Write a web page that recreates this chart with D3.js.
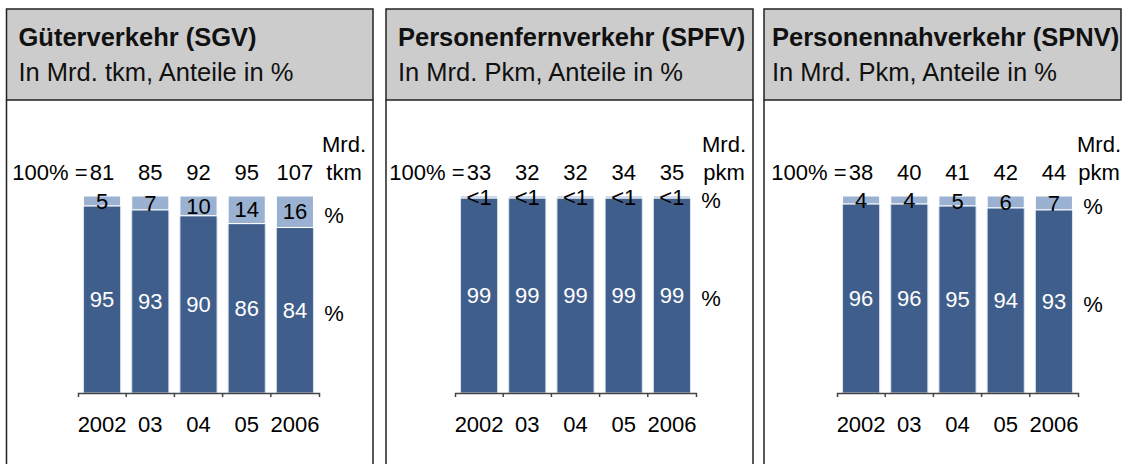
<!DOCTYPE html>
<html>
<head>
<meta charset="utf-8">
<script src="https://cdn.jsdelivr.net/npm/d3@7"></script>
<style>
    body { margin: 0; background: #fff; }
    svg { display: block; font-family: "Liberation Sans", Arial, sans-serif; }
</style>
</head>
<body>
<svg id="chart" width="1122" height="464"></svg>
<script>
const years = ["2002", "03", "04", "05", "2006"];

const sgvTotals = [81, 85, 92, 95, 107];
const sgvDark = [95, 93, 90, 86, 84];
const sgvLight = [5, 7, 10, 14, 16];

const spfvTotals = [33, 32, 32, 34, 35];
const spfvDark = [99, 99, 99, 99, 99];
const spfvLight = [1, 1, 1, 1, 1];
const spfvLightLabels = ["<1", "<1", "<1", "<1", "<1"];

const spnvTotals = [38, 40, 41, 42, 44];
const spnvDark = [96, 96, 95, 94, 93];
const spnvLight = [4, 4, 5, 6, 7];

const panels = [
    {title: "Güterverkehr (SGV)", sub: "In Mrd. tkm, Anteile in %", unit: "tkm",
     totals: sgvTotals, dark: sgvDark, light: sgvLight, lightLabels: sgvLight.map(String),
     left: 6.5, right: 373, axisX: 78, unitDx: 25, textDx: 12},
    {title: "Personenfernverkehr (SPFV)", sub: "In Mrd. Pkm, Anteile in %", unit: "pkm",
     totals: spfvTotals, dark: spfvDark, light: spfvLight, lightLabels: spfvLightLabels,
     left: 386, right: 753, axisX: 455, unitDx: 28, textDx: 12},
    {title: "Personennahverkehr (SPNV)", sub: "In Mrd. Pkm, Anteile in %", unit: "pkm",
     totals: spnvTotals, dark: spnvDark, light: spnvLight, lightLabels: spnvLight.map(String),
     left: 764, right: 1121, axisX: 837, unitDx: 21, textDx: 8, open: true}
];

const darkColor = "#405e8b";
const lightColor = "#9bb1d1";
const headerTop = 9, headerBottom = 100, height = 464;
const labelSize = 22;

const svg = d3.select("#chart");
const y = d3.scaleLinear().domain([0, 100]).range([393, 196]);

panels.forEach(p => {
    const g = svg.append("g");

    // header box
    g.append("rect")
        .attr("x", p.left).attr("y", headerTop)
        .attr("width", p.right - p.left).attr("height", headerBottom - headerTop)
        .attr("fill", "#cccccc").attr("stroke", "#222").attr("stroke-width", 1.5);
    // body borders (open at the bottom)
    g.append("line")
        .attr("x1", p.left).attr("x2", p.left).attr("y1", headerBottom).attr("y2", height)
        .attr("stroke", "#222").attr("stroke-width", 1.5);
    if (!p.open) {
        g.append("line")
            .attr("x1", p.right).attr("x2", p.right).attr("y1", headerBottom).attr("y2", height)
            .attr("stroke", "#222").attr("stroke-width", 1.5);
    }

    g.append("text")
        .attr("x", p.left + p.textDx).attr("y", 45.5)
        .attr("font-size", 25.5).attr("font-weight", "bold").attr("fill", "#111")
        .text(p.title);
    g.append("text")
        .attr("x", p.left + p.textDx).attr("y", 81)
        .attr("font-size", 25.5).attr("fill", "#111")
        .text(p.sub);

    const x = d3.scaleBand()
        .domain(years)
        .range([p.axisX, p.axisX + 241])
        .paddingInner(0.23)
        .paddingOuter(0.115);
    const step = x.step();
    const end = p.axisX + 241;

    const rows = years.map((yr, i) => ({yr, total: p.totals[i], dark: p.dark[i], light: p.light[i], lightLabel: p.lightLabels[i]}));

    // dark segments
    g.selectAll(".dark").data(rows).enter().append("rect")
        .attr("x", d => x(d.yr)).attr("width", x.bandwidth())
        .attr("y", d => y(d.dark)).attr("height", d => y(0) - y(d.dark))
        .attr("fill", darkColor).attr("stroke", "#dbe3ee").attr("stroke-width", 1);
    // light segments
    g.selectAll(".light").data(rows).enter().append("rect")
        .attr("x", d => x(d.yr)).attr("width", x.bandwidth())
        .attr("y", d => y(d.dark + d.light)).attr("height", d => y(d.dark) - y(d.dark + d.light))
        .attr("fill", lightColor).attr("stroke", "#ffffff").attr("stroke-width", 1);

    // labels inside segments
    g.selectAll(".dlab").data(rows).enter().append("text")
        .attr("x", d => x(d.yr) + x.bandwidth() / 2)
        .attr("y", d => (y(0) + y(d.dark)) / 2)
        .attr("dy", "0.35em").attr("text-anchor", "middle")
        .attr("font-size", labelSize).attr("fill", "#fff")
        .text(d => d.dark);
    g.selectAll(".llab").data(rows).enter().append("text")
        .attr("x", d => x(d.yr) + x.bandwidth() / 2)
        .attr("y", d => (y(d.dark) + y(d.dark + d.light)) / 2)
        .attr("dy", "0.35em").attr("text-anchor", "middle")
        .attr("font-size", labelSize).attr("fill", "#000")
        .text(d => d.lightLabel);

    // totals
    g.selectAll(".tot").data(rows).enter().append("text")
        .attr("x", d => x(d.yr) + x.bandwidth() / 2)
        .attr("y", 179.5).attr("text-anchor", "middle")
        .attr("font-size", labelSize).attr("fill", "#000")
        .text(d => d.total);
    g.append("text")
        .attr("x", x(years[0]) + 4).attr("y", 179.5).attr("text-anchor", "end")
        .attr("font-size", labelSize).attr("fill", "#000")
        .text("100% =");

    // unit labels
    g.append("text")
        .attr("x", end + p.unitDx).attr("y", 151.7).attr("text-anchor", "middle")
        .attr("font-size", labelSize).text("Mrd.");
    g.append("text")
        .attr("x", end + p.unitDx).attr("y", 179.5).attr("text-anchor", "middle")
        .attr("font-size", labelSize).text(p.unit);

    const last = rows[rows.length - 1];
    g.append("text")
        .attr("x", end + 15).attr("y", (y(last.dark) + y(100)) / 2 + 11)
        .attr("text-anchor", "middle").attr("font-size", labelSize).text("%");
    g.append("text")
        .attr("x", end + 15).attr("y", (y(0) + y(last.dark)) / 2 + 11)
        .attr("text-anchor", "middle").attr("font-size", labelSize).text("%");

    // x axis
    const axis = g.append("g")
        .attr("transform", `translate(0,${y(0)})`)
        .call(d3.axisBottom(x).tickSize(0).tickSizeOuter(4).tickPadding(23));
    axis.select(".domain").attr("stroke", "#444").attr("stroke-width", 1.5);
    axis.selectAll(".tick text").attr("font-size", labelSize).attr("fill", "#000")
        .attr("font-family", "Liberation Sans, Arial, sans-serif");
    axis.selectAll(".sep").data(d3.range(1, years.length)).enter().append("line")
        .attr("x1", i => p.axisX + i * step).attr("x2", i => p.axisX + i * step)
        .attr("y1", 0).attr("y2", 4)
        .attr("stroke", "#444").attr("stroke-width", 1.5);
});
</script>
</body>
</html>
